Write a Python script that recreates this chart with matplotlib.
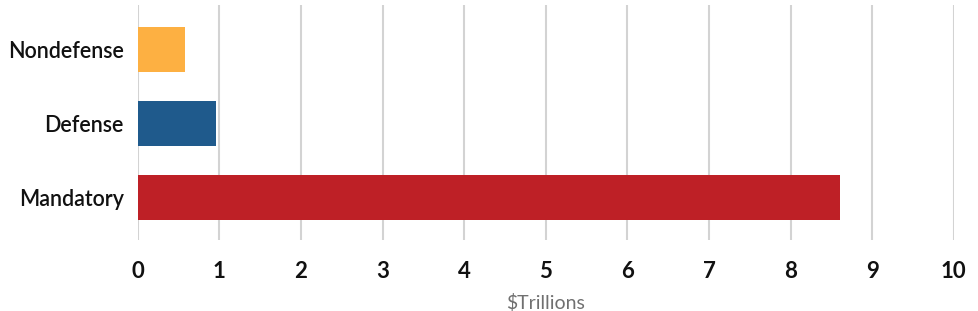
import matplotlib.pyplot as plt

categories = ["Mandatory", "Defense", "Nondefense"]
values = [8.6, 0.96, 0.58]
colors = ["#be2026", "#1f5a8c", "#fdb042"]
xticks = list(range(0, 11))

plt.rcParams["font.family"] = ["Lato", "DejaVu Sans"]

fig = plt.figure(figsize=(9.79, 3.11), dpi=100)
ax = fig.add_axes([0.1407, 0.228, 0.8336, 0.756])

ypos = list(range(len(categories)))
ax.barh(ypos, values, height=0.61, color=colors, zorder=3)

ax.set_xlim(0, 10)
ax.set_ylim(-0.57, 2.6)
ax.set_xticks(xticks)
ax.set_xticklabels([str(t) for t in xticks], fontsize=16, fontweight="bold")
ax.set_yticks(ypos)
ax.set_yticklabels(categories, fontsize=15.5, fontweight="semibold")
ax.tick_params(axis="both", length=0, colors="#111111")
ax.tick_params(axis="x", pad=15)
ax.tick_params(axis="y", pad=10)

ax.grid(axis="x", color="#d3d3d3", linewidth=1.5, zorder=0)
ax.grid(axis="y", visible=False)
for s in ax.spines.values():
    s.set_visible(False)

ax.set_xlabel("\\$Trillions", fontsize=14, color="#707070", labelpad=9)

fig.savefig("out.png", dpi=100)
